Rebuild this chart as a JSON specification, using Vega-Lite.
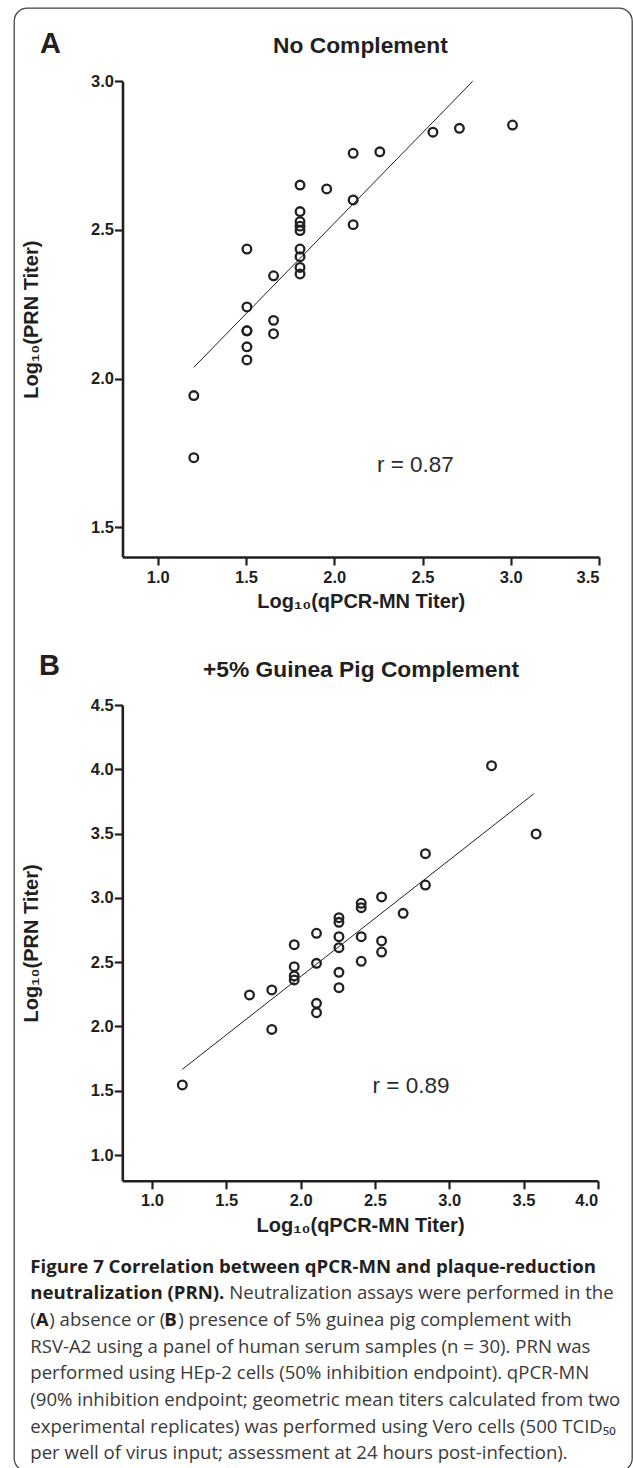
{
  "$schema": "https://vega.github.io/schema/vega-lite/v6.json",
  "width": 618,
  "height": 1463,
  "autosize": {"type": "none"},
  "padding": {"left": 14, "top": 8, "right": 1, "bottom": -3},
  "background": "#ffffff",
  "config": {
    "view": {"stroke": "#444444", "strokeWidth": 1.3, "cornerRadius": 13},
    "axis": {
      "grid": false,
      "domainColor": "#231f20",
      "domainWidth": 2.6,
      "tickColor": "#231f20",
      "tickWidth": 2.2,
      "tickSize": 8,
      "labelFont": "Liberation Sans",
      "labelFontSize": 16.5,
      "labelFontWeight": "bold",
      "labelColor": "#231f20",
      "titleFont": "Liberation Sans",
      "titleFontSize": 20,
      "titleFontWeight": "bold",
      "titleColor": "#231f20"
    }
  },
  "datasets": {
    "A": [
      {"mn": 1.204, "prn": 1.943}, {"mn": 1.204, "prn": 1.734},
      {"mn": 1.505, "prn": 2.436}, {"mn": 1.505, "prn": 2.241}, {"mn": 1.505, "prn": 2.161}, {"mn": 1.505, "prn": 2.161}, {"mn": 1.505, "prn": 2.107}, {"mn": 1.505, "prn": 2.063},
      {"mn": 1.656, "prn": 2.346}, {"mn": 1.656, "prn": 2.196}, {"mn": 1.656, "prn": 2.151},
      {"mn": 1.806, "prn": 2.651}, {"mn": 1.806, "prn": 2.562}, {"mn": 1.806, "prn": 2.528}, {"mn": 1.806, "prn": 2.513}, {"mn": 1.806, "prn": 2.498}, {"mn": 1.806, "prn": 2.436}, {"mn": 1.806, "prn": 2.41}, {"mn": 1.806, "prn": 2.374}, {"mn": 1.806, "prn": 2.352},
      {"mn": 1.957, "prn": 2.638},
      {"mn": 2.107, "prn": 2.758}, {"mn": 2.107, "prn": 2.601}, {"mn": 2.107, "prn": 2.518},
      {"mn": 2.258, "prn": 2.763},
      {"mn": 2.559, "prn": 2.829}, {"mn": 2.709, "prn": 2.842}, {"mn": 3.01, "prn": 2.853}
    ],
    "lineA": [{"mn": 1.204, "prn": 2.038}, {"mn": 2.784, "prn": 3.0}],
    "B": [
      {"mn": 1.204, "prn": 1.545},
      {"mn": 1.656, "prn": 2.245},
      {"mn": 1.806, "prn": 2.284}, {"mn": 1.806, "prn": 1.977},
      {"mn": 1.957, "prn": 2.636}, {"mn": 1.957, "prn": 2.465}, {"mn": 1.957, "prn": 2.393}, {"mn": 1.957, "prn": 2.362},
      {"mn": 2.107, "prn": 2.725}, {"mn": 2.107, "prn": 2.491}, {"mn": 2.107, "prn": 2.18}, {"mn": 2.107, "prn": 2.107},
      {"mn": 2.258, "prn": 2.846}, {"mn": 2.258, "prn": 2.81}, {"mn": 2.258, "prn": 2.698}, {"mn": 2.258, "prn": 2.613}, {"mn": 2.258, "prn": 2.421}, {"mn": 2.258, "prn": 2.302},
      {"mn": 2.408, "prn": 2.958}, {"mn": 2.408, "prn": 2.924}, {"mn": 2.408, "prn": 2.698}, {"mn": 2.408, "prn": 2.507},
      {"mn": 2.545, "prn": 3.007}, {"mn": 2.545, "prn": 2.665}, {"mn": 2.545, "prn": 2.579},
      {"mn": 2.69, "prn": 2.88},
      {"mn": 2.84, "prn": 3.344}, {"mn": 2.84, "prn": 3.1},
      {"mn": 3.285, "prn": 4.028},
      {"mn": 3.585, "prn": 3.497}
    ],
    "lineB": [{"mn": 1.204, "prn": 1.667}, {"mn": 3.57, "prn": 3.81}],
    "labelsA": [
      {"mn": 2.4595, "prn": 1.687, "label": "r = 0.87", "kind": "r"},
      {"mn": 2.148, "prn": 3.094, "label": "No Complement", "kind": "title"},
      {"mn": 0.3326, "prn": 3.0943, "label": "A", "kind": "letter"}
    ],
    "labelsB": [
      {"mn": 2.743, "prn": 1.4806, "label": "r = 0.89", "kind": "r"},
      {"mn": 2.406, "prn": 4.72, "label": "+5% Guinea Pig Complement", "kind": "title"},
      {"mn": 0.2398, "prn": 4.733, "label": "B", "kind": "letter"}
    ],
    "caption": [
      {"line": 1, "part": "b", "text": "Figure 7 Correlation between qPCR-MN and plaque-reduction"},
      {"line": 2, "part": "b", "text": "neutralization (PRN)."},
      {"line": 2, "part": "r2", "text": "Neutralization assays were performed in the"},
      {"line": 3, "part": "r", "text": "("},
      {"line": 3, "part": "b3a", "text": "A"},
      {"line": 3, "part": "r3a", "text": ") absence or ("},
      {"line": 3, "part": "b3b", "text": "B"},
      {"line": 3, "part": "r3b", "text": ") presence of 5% guinea pig complement with"},
      {"line": 4, "part": "r", "text": "RSV-A2 using a panel of human serum samples (n = 30). PRN was"},
      {"line": 5, "part": "r", "text": "performed using HEp-2 cells (50% inhibition endpoint). qPCR-MN"},
      {"line": 6, "part": "r", "text": "(90% inhibition endpoint; geometric mean titers calculated from two"},
      {"line": 7, "part": "r", "text": "experimental replicates) was performed using Vero cells (500 TCID₅₀"},
      {"line": 8, "part": "r", "text": "per well of virus input; assessment at 24 hours post-infection)."}
    ]
  },
  "resolve": {
    "scale": {"x": "independent", "y": "independent"},
    "axis": {"x": "independent", "y": "independent"}
  },
  "layer": [
    {
      "data": {"name": "A"},
      "mark": {"type": "point", "shape": "circle", "filled": false, "size": 75, "strokeWidth": 2.3, "color": "#231f20", "opacity": 1},
      "encoding": {
        "x": {
          "field": "mn", "type": "quantitative",
          "scale": {"domain": [0.8, 3.5], "range": [108.5, 585], "zero": false, "nice": false},
          "axis": {"orient": "bottom", "offset": -914, "values": [1, 1.5, 2, 2.5, 3, 3.5], "format": ".1f", "title": "Log₁₀(qPCR-MN Titer)", "labelPadding": 4, "titlePadding": 6}
        },
        "y": {
          "field": "prn", "type": "quantitative",
          "scale": {"domain": [1.4, 3.0], "range": [549, 73.35], "zero": false, "nice": false},
          "axis": {"orient": "left", "offset": -108.5, "values": [1.5, 2, 2.5, 3], "format": ".1f", "title": "Log₁₀(PRN Titer)", "labelPadding": 1, "titlePadding": 49}
        }
      }
    },
    {
      "data": {"name": "lineA"},
      "mark": {"type": "line", "color": "#231f20", "strokeWidth": 1},
      "encoding": {
        "x": {"field": "mn", "type": "quantitative", "scale": {"domain": [0.8, 3.5], "range": [108.5, 585], "zero": false, "nice": false}, "axis": null},
        "y": {"field": "prn", "type": "quantitative", "scale": {"domain": [1.4, 3.0], "range": [549, 73.35], "zero": false, "nice": false}, "axis": null}
      }
    },
    {
      "data": {"name": "labelsA"},
      "transform": [{"filter": "datum.kind == 'r'"}],
      "mark": {"type": "text", "font": "Liberation Sans", "fontSize": 22.5, "align": "center", "baseline": "alphabetic", "color": "#2b2b2b"},
      "encoding": {
        "x": {"field": "mn", "type": "quantitative", "scale": {"domain": [0.8, 3.5], "range": [108.5, 585], "zero": false, "nice": false}, "axis": null},
        "y": {"field": "prn", "type": "quantitative", "scale": {"domain": [1.4, 3.0], "range": [549, 73.35], "zero": false, "nice": false}, "axis": null},
        "text": {"field": "label"}
      }
    },
    {
      "data": {"name": "labelsA"},
      "transform": [{"filter": "datum.kind == 'title'"}],
      "mark": {"type": "text", "font": "Liberation Sans", "fontSize": 22.8, "fontWeight": "bold", "align": "center", "baseline": "alphabetic", "color": "#231f20"},
      "encoding": {
        "x": {"field": "mn", "type": "quantitative", "scale": {"domain": [0.8, 3.5], "range": [108.5, 585], "zero": false, "nice": false}, "axis": null},
        "y": {"field": "prn", "type": "quantitative", "scale": {"domain": [1.4, 3.0], "range": [549, 73.35], "zero": false, "nice": false}, "axis": null},
        "text": {"field": "label"}
      }
    },
    {
      "data": {"name": "labelsA"},
      "transform": [{"filter": "datum.kind == 'letter'"}],
      "mark": {"type": "text", "font": "Liberation Sans", "fontSize": 29, "fontWeight": "bold", "align": "left", "baseline": "alphabetic", "color": "#231f20"},
      "encoding": {
        "x": {"field": "mn", "type": "quantitative", "scale": {"domain": [0.8, 3.5], "range": [108.5, 585], "zero": false, "nice": false}, "axis": null},
        "y": {"field": "prn", "type": "quantitative", "scale": {"domain": [1.4, 3.0], "range": [549, 73.35], "zero": false, "nice": false}, "axis": null},
        "text": {"field": "label"}
      }
    },
    {
      "data": {"name": "B"},
      "mark": {"type": "point", "shape": "circle", "filled": false, "size": 75, "strokeWidth": 2.3, "color": "#231f20", "opacity": 1},
      "encoding": {
        "x": {
          "field": "mn", "type": "quantitative",
          "scale": {"domain": [0.8, 4.0], "range": [108.3, 583.8], "zero": false, "nice": false},
          "axis": {"orient": "bottom", "offset": -290.2, "values": [1, 1.5, 2, 2.5, 3, 3.5, 4], "format": ".1f", "title": "Log₁₀(qPCR-MN Titer)", "labelPadding": 4, "titlePadding": 6}
        },
        "y": {
          "field": "prn", "type": "quantitative",
          "scale": {"domain": [0.8, 4.5], "range": [1172.8, 697], "zero": false, "nice": false},
          "axis": {"orient": "left", "offset": -108.3, "values": [1, 1.5, 2, 2.5, 3, 3.5, 4, 4.5], "format": ".1f", "title": "Log₁₀(PRN Titer)", "labelPadding": 1, "titlePadding": 49}
        }
      }
    },
    {
      "data": {"name": "lineB"},
      "mark": {"type": "line", "color": "#231f20", "strokeWidth": 1},
      "encoding": {
        "x": {"field": "mn", "type": "quantitative", "scale": {"domain": [0.8, 4.0], "range": [108.3, 583.8], "zero": false, "nice": false}, "axis": null},
        "y": {"field": "prn", "type": "quantitative", "scale": {"domain": [0.8, 4.5], "range": [1172.8, 697], "zero": false, "nice": false}, "axis": null}
      }
    },
    {
      "data": {"name": "labelsB"},
      "transform": [{"filter": "datum.kind == 'r'"}],
      "mark": {"type": "text", "font": "Liberation Sans", "fontSize": 22.5, "align": "center", "baseline": "alphabetic", "color": "#2b2b2b"},
      "encoding": {
        "x": {"field": "mn", "type": "quantitative", "scale": {"domain": [0.8, 4.0], "range": [108.3, 583.8], "zero": false, "nice": false}, "axis": null},
        "y": {"field": "prn", "type": "quantitative", "scale": {"domain": [0.8, 4.5], "range": [1172.8, 697], "zero": false, "nice": false}, "axis": null},
        "text": {"field": "label"}
      }
    },
    {
      "data": {"name": "labelsB"},
      "transform": [{"filter": "datum.kind == 'title'"}],
      "mark": {"type": "text", "font": "Liberation Sans", "fontSize": 22.8, "fontWeight": "bold", "align": "center", "baseline": "alphabetic", "color": "#231f20"},
      "encoding": {
        "x": {"field": "mn", "type": "quantitative", "scale": {"domain": [0.8, 4.0], "range": [108.3, 583.8], "zero": false, "nice": false}, "axis": null},
        "y": {"field": "prn", "type": "quantitative", "scale": {"domain": [0.8, 4.5], "range": [1172.8, 697], "zero": false, "nice": false}, "axis": null},
        "text": {"field": "label"}
      }
    },
    {
      "data": {"name": "labelsB"},
      "transform": [{"filter": "datum.kind == 'letter'"}],
      "mark": {"type": "text", "font": "Liberation Sans", "fontSize": 29, "fontWeight": "bold", "align": "left", "baseline": "alphabetic", "color": "#231f20"},
      "encoding": {
        "x": {"field": "mn", "type": "quantitative", "scale": {"domain": [0.8, 4.0], "range": [108.3, 583.8], "zero": false, "nice": false}, "axis": null},
        "y": {"field": "prn", "type": "quantitative", "scale": {"domain": [0.8, 4.5], "range": [1172.8, 697], "zero": false, "nice": false}, "axis": null},
        "text": {"field": "label"}
      }
    },
    {
      "data": {"name": "caption"},
      "encoding": {
        "x": {"datum": 0, "type": "quantitative", "scale": {"domain": [0, 1], "range": [16.3, 600]}, "axis": null},
        "y": {"field": "line", "type": "quantitative", "scale": {"domain": [1, 8], "range": [1264.7, 1451.4], "zero": false, "nice": false}, "axis": null},
        "text": {"field": "text"}
      },
      "layer": [
        {"transform": [{"filter": "datum.part == 'b'"}], "mark": {"type": "text", "align": "left", "baseline": "alphabetic", "font": "Open Sans", "fontSize": 18.6, "fontWeight": "bold", "color": "#231f20"}},
        {"transform": [{"filter": "datum.part == 'r'"}], "mark": {"type": "text", "align": "left", "baseline": "alphabetic", "font": "Open Sans", "fontSize": 18.6, "color": "#3a3a3a"}},
        {"transform": [{"filter": "datum.part == 'r2'"}], "mark": {"type": "text", "align": "left", "baseline": "alphabetic", "font": "Open Sans", "fontSize": 18.6, "color": "#3a3a3a", "dx": 199}},
        {"transform": [{"filter": "datum.part == 'b3a'"}], "mark": {"type": "text", "align": "left", "baseline": "alphabetic", "font": "Open Sans", "fontSize": 18.6, "fontWeight": "bold", "color": "#231f20", "dx": 5.5}},
        {"transform": [{"filter": "datum.part == 'r3a'"}], "mark": {"type": "text", "align": "left", "baseline": "alphabetic", "font": "Open Sans", "fontSize": 18.6, "color": "#3a3a3a", "dx": 19}},
        {"transform": [{"filter": "datum.part == 'b3b'"}], "mark": {"type": "text", "align": "left", "baseline": "alphabetic", "font": "Open Sans", "fontSize": 18.6, "fontWeight": "bold", "color": "#231f20", "dx": 134}},
        {"transform": [{"filter": "datum.part == 'r3b'"}], "mark": {"type": "text", "align": "left", "baseline": "alphabetic", "font": "Open Sans", "fontSize": 18.6, "color": "#3a3a3a", "dx": 148}}
      ]
    }
  ]
}
